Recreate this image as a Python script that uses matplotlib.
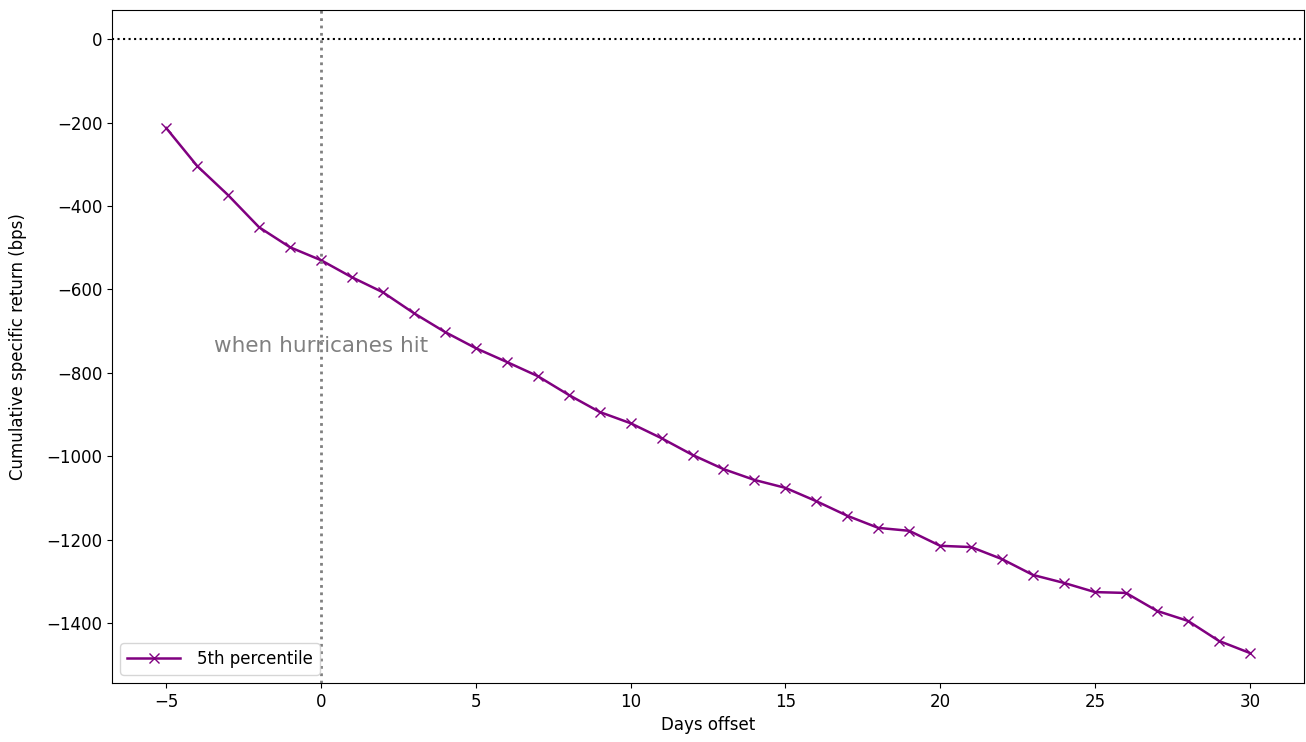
import matplotlib
matplotlib.use("Agg")
import matplotlib.pyplot as plt

days = list(range(-5, 31))
p5 = [-213, -304, -374, -451, -499, -530, -571, -607, -657, -702, -741, -774, -808, -853,
      -894, -921, -957, -997, -1031, -1057, -1076, -1108, -1143, -1172, -1179, -1215, -1218,
      -1247, -1285, -1304, -1326, -1328, -1371, -1395, -1443, -1472]

fig = plt.figure(figsize=(13.06, 7.42), dpi=100)
ax = fig.add_axes([112/1306, 1-683/742, (1304-112)/1306, (683-10)/742])
ax.plot(days, p5, color="purple", marker="x", markersize=7, linewidth=1.8, label="5th percentile")
ax.axhline(0, color="black", linestyle=":", linewidth=1.5)
ax.axvline(0, color="gray", linestyle=":", linewidth=2)
ax.text(0, -735, "when hurricanes hit", color="gray", fontsize=15.5, ha="center", va="center")
ax.set_xlim(-6.75, 31.75)
ax.set_ylim(-1544, 70)
ax.set_xticks(range(-5, 31, 5))
ax.set_yticks(range(-1400, 1, 200))
ax.tick_params(labelsize=12)
ax.set_xlabel("Days offset", fontsize=12)
ax.set_ylabel("Cumulative specific return (bps)", fontsize=12, labelpad=14)
ax.legend(loc="lower left", fontsize=12, handlelength=3.2, handletextpad=1.0)
fig.savefig("out.png", dpi=100)
